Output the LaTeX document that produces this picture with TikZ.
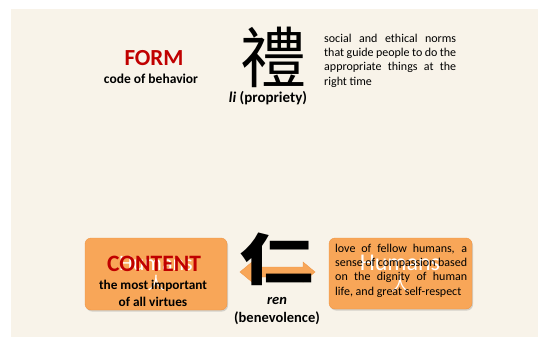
\documentclass[tikz,border=0pt]{standalone}
\usepackage{fontspec}
\setmainfont{Carlito}
\newfontfamily\cjk{Noto Sans CJK TC}
\usetikzlibrary{shadows}
\hyphenpenalty=10000
\exhyphenpenalty=10000
\definecolor{bg}{RGB}{248,243,233}
\definecolor{boxor}{RGB}{248,166,88}
\definecolor{boxedge}{RGB}{238,150,70}
\definecolor{formred}{RGB}{192,0,0}
\tikzset{
  title/.style={font=\bfseries\fontsize{23}{24}\selectfont, text=formred, inner sep=0pt},
  sub/.style={font=\bfseries\fontsize{13.5}{17}\selectfont, align=center, inner sep=0pt},
  body/.style={font=\fontsize{12}{14.2}\selectfont, align=justify, text width=132pt, inner sep=0pt},
  han/.style={font=\cjk\fontsize{66}{66}\selectfont, inner sep=0pt},
  obox/.style={fill=boxor, draw=boxedge, rounded corners=6pt, drop shadow={shadow xshift=1pt, shadow yshift=-1.5pt, opacity=0.3}},
  ghost/.style={text=white, inner sep=0pt},
}
\begin{document}
\begin{tikzpicture}[x=1pt,y=-1pt]
\useasboundingbox (0,0) rectangle (538,337);
\fill[bg] (11,9) rectangle (538,337);
% top row
\node[title] (form) at (154,58) {FORM};
\node[sub] (code) at (151,79) {code of behavior};
\node[han] (li) at (273,57) {禮};
\node[sub, font=\bfseries\fontsize{15}{17}\selectfont] (liname) at (268,98) {\textit{li} (propriety)};
\node[body, anchor=north west] (lidesc) at (324,34) {social and ethical norms that guide people to do the appropriate things at the right time};
% bottom row
\path[obox] (85,238) rectangle (227,310);
\path[obox] (329,238) rectangle (472,309);
\node[ghost, font=\fontsize{22}{22}\selectfont] (gh1) at (156,264) {Humans};
\node[ghost, font=\cjk\fontsize{17}{17}\selectfont] (gr1) at (156,283) {人};
\node[ghost, font=\fontsize{24}{24}\selectfont] (gh2) at (400,263) {Humans};
\node[ghost, font=\cjk\fontsize{17}{17}\selectfont] (gr2) at (400,284) {人};
\node[title, font=\bfseries\fontsize{23.5}{24}\selectfont] (ctitle) at (154,264) {CONTENT};
\node[sub, font=\bfseries\fontsize{13.3}{17}\selectfont] (csub) at (153,293) {the most important\\of all virtues};
\node[body, anchor=north west] (rendesc) at (335,244) {love of fellow humans, a sense of compassion based on the dignity of human life, and great self-respect};
% double arrow
\fill[boxor, draw=boxedge] (240,272) -- (252,262) -- (252,267) -- (303,267) -- (303,262) -- (315,272) -- (303,282) -- (303,277) -- (252,277) -- (252,282) -- cycle;
\node[han, font=\cjk\bfseries\fontsize{56}{56}\selectfont, xscale=1.3] (ren) at (277,259) {仁};
\node[sub, font=\bfseries\fontsize{14.5}{18}\selectfont] (renname) at (277,311) {\textit{ren}\\(benevolence)};
\end{tikzpicture}
\end{document}
